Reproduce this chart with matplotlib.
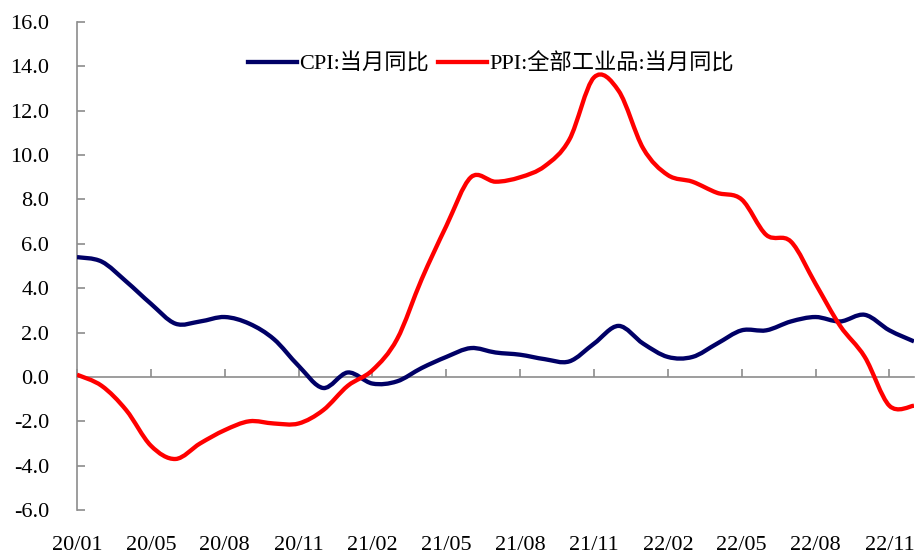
import numpy as np
import matplotlib
matplotlib.use('Agg')
import matplotlib.pyplot as plt
from matplotlib.path import Path
from matplotlib.patches import PathPatch
from matplotlib.lines import Line2D

plt.rcParams['font.family'] = ['Liberation Serif', 'Noto Sans CJK SC']
plt.rcParams['axes.unicode_minus'] = False

# monthly, 2020/01 .. 2022/11
cpi = [5.4, 5.2, 4.3, 3.3, 2.4, 2.5, 2.7, 2.4, 1.7, 0.5, -0.5, 0.2,
       -0.3, -0.2, 0.4, 0.9, 1.3, 1.1, 1.0, 0.8, 0.7, 1.5, 2.3, 1.5,
       0.9, 0.9, 1.5, 2.1, 2.1, 2.5, 2.7, 2.5, 2.8, 2.1, 1.6]
ppi = [0.1, -0.4, -1.5, -3.1, -3.7, -3.0, -2.4, -2.0, -2.1, -2.1, -1.5, -0.4,
       0.3, 1.7, 4.4, 6.8, 9.0, 8.8, 9.0, 9.5, 10.7, 13.5, 12.9, 10.3,
       9.1, 8.8, 8.3, 8.0, 6.4, 6.1, 4.2, 2.3, 0.9, -1.3, -1.3]
tick_labels = ['20/01', '20/05', '20/08', '20/11', '21/02', '21/05',
               '21/08', '21/11', '22/02', '22/05', '22/08', '22/11']
names = ['CPI:当月同比', 'PPI:全部工业品:当月同比']
colors = ['#000066', '#ff0000']

FS = 16
AX_COL = '#8c8c8c'


def smooth_path(x, y):
    # excel style smoothed line as cubic bezier segments
    pts = np.column_stack([x, y]).astype(float)
    n = len(pts)
    verts = [pts[0]]
    codes = [Path.MOVETO]
    for i in range(n - 1):
        p0 = pts[i - 1] if i > 0 else pts[i]
        p1 = pts[i]
        p2 = pts[i + 1]
        p3 = pts[i + 2] if i + 2 < n else pts[i + 1]
        c1 = p1 + (p2 - p0) / 6.0
        c2 = p2 - (p3 - p1) / 6.0
        verts += [c1, c2, p2]
        codes += [Path.CURVE4] * 3
    return Path(verts, codes)


fig = plt.figure(figsize=(9.18, 5.58), dpi=100)
ax = fig.add_axes([77 / 918, 1 - 510 / 558, (914 - 77) / 918, (510 - 22) / 558])

x = np.arange(len(cpi))
for vals, c in zip([cpi, ppi], colors):
    patch = PathPatch(smooth_path(x, vals), facecolor='none', edgecolor=c,
                      lw=3.1, capstyle='butt', joinstyle='round',
                      transform=ax.transData, zorder=3)
    ax.add_patch(patch)

ax.set_xlim(0, len(cpi) - 1)
ax.set_ylim(-6, 16)
ax.set_yticks(np.arange(-6, 17, 2))
ax.set_yticklabels([f'{v:.1f}' for v in np.arange(-6, 17, 2)])

for s in ['top', 'right']:
    ax.spines[s].set_visible(False)
ax.spines['left'].set_color(AX_COL)
ax.spines['left'].set_linewidth(1.2)
ax.spines['bottom'].set_color(AX_COL)
ax.spines['bottom'].set_linewidth(1.2)
ax.spines['bottom'].set_position(('data', 0))

ticks = np.arange(0, len(cpi), 3)
ax.set_xticks(ticks)
ax.tick_params(axis='x', direction='in', length=6, width=1.2, color=AX_COL,
               labelbottom=False)
ax.tick_params(axis='y', direction='in', length=6, width=1.2, color=AX_COL,
               labelsize=FS, pad=20)

sec = ax.secondary_xaxis(0)
sec.set_xticks(ticks, tick_labels)
sec.tick_params(length=0, labelsize=FS, pad=19)
sec.spines['bottom'].set_visible(False)

handles = [Line2D([], [], color=c, lw=3.1) for c in colors]
fig.legend(handles, names, loc='center', bbox_to_anchor=(491 / 918, 1 - 64 / 558),
           ncol=2, frameon=False, fontsize=FS, handlelength=2.2,
           handletextpad=0.1, columnspacing=0.4, borderaxespad=0)

fig.savefig('out.png', dpi=100)
